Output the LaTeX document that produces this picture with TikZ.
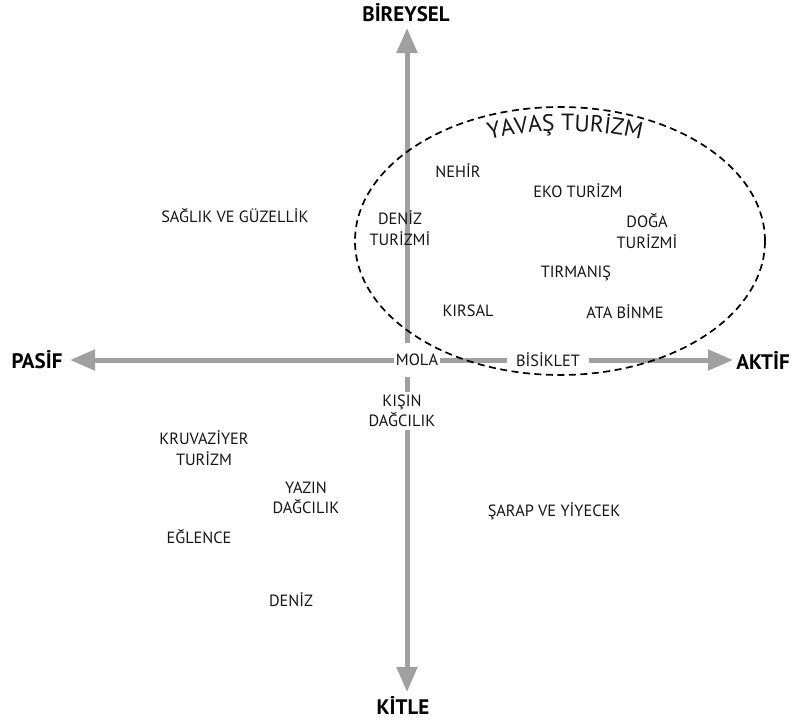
\documentclass[tikz,border=0pt]{standalone}
\usepackage{fontspec}
\setmainfont{PT Sans}
\usetikzlibrary{arrows.meta,decorations.text}
\definecolor{axgray}{HTML}{A0A0A0}
\definecolor{txt}{HTML}{151515}
\begin{document}
\begin{tikzpicture}[x=1pt,y=-1pt,
  lbl/.style={font=\fontsize{16.3}{20.5}\selectfont, text=txt, align=center, inner sep=0pt},
  gaplbl/.style={lbl, fill=white},
  axlbl/.style={font=\fontsize{21}{21}\selectfont\bfseries, text=black, inner sep=0pt},
  axisline/.style={draw=axgray, line width=5pt, -{Triangle[length=25pt,width=20pt]}},
  slowell/.style={draw=black, line width=1.7pt, dash pattern=on 7pt off 4.5pt}]
\useasboundingbox (0,0) rectangle (793,724);
% axes
\coordinate (o) at (407,360);
\coordinate (tipW) at (70,360);
\coordinate (tipE) at (733,360);
\coordinate (tipN) at (407,28);
\coordinate (tipS) at (407,692);
\draw[axisline] (o) -- (tipW);
\draw[axisline] (o) -- (tipE);
\draw[axisline] (o) -- (tipN);
\draw[axisline] (o) -- (tipS);
\node[axlbl] (pasif) at (37,360) {PASİF};
\node[axlbl] (aktif) at (763,360) {AKTİF};
\node[axlbl] (bireysel) at (406,13) {BİREYSEL};
\node[axlbl] (kitle) at (403,705) {KİTLE};
% labels on axes
\node[gaplbl, inner xsep=2pt, inner ysep=11pt] (mola) at (417,360) {MOLA};
\node[gaplbl, inner xsep=9pt, inner ysep=4pt] (bisiklet) at (548,360) {BİSİKLET};
\node[gaplbl, inner xsep=4pt, inner ysep=3pt] (kisin) at (402,411) {KIŞIN\\DAĞCILIK};
% other labels
\node[lbl] (saglik) at (235,215) {SAĞLIK VE GÜZELLİK};
\node[lbl] (nehir) at (458,171) {NEHİR};
\node[lbl] (eko) at (578,191) {EKO TURİZM};
\node[lbl] (deniztur) at (400,228) {DENİZ\\TURİZMİ};
\node[lbl] (doga) at (647,231) {DOĞA\\TURİZMİ};
\node[lbl] (tirmanis) at (576,273) {TIRMANIŞ};
\node[lbl] (kirsal) at (468,311) {KIRSAL};
\node[lbl] (ata) at (625,312) {ATA BİNME};
\node[lbl] (kruvaziyer) at (204,448) {KRUVAZİYER\\TURİZM};
\node[lbl] (yazin) at (306,498) {YAZIN\\DAĞCILIK};
\node[lbl] (eglence) at (199,536) {EĞLENCE};
\node[lbl] (deniz) at (291,600) {DENİZ};
\node[lbl] (sarap) at (554,511) {ŞARAP VE YİYECEK};
% slow tourism ellipse
\coordinate (ec) at (560,241);
\draw[slowell] (ec) ellipse [x radius=205pt, y radius=134pt];
\path[decorate, decoration={text along path, text align=center,
   text={|\fontsize{23.5}{23.5}\selectfont\color{txt}|YAVAŞ TURİZM}}]
   (565,241) ++(150:196pt and 110pt) arc[start angle=150, end angle=30, x radius=196pt, y radius=110pt];
\end{tikzpicture}
\end{document}
